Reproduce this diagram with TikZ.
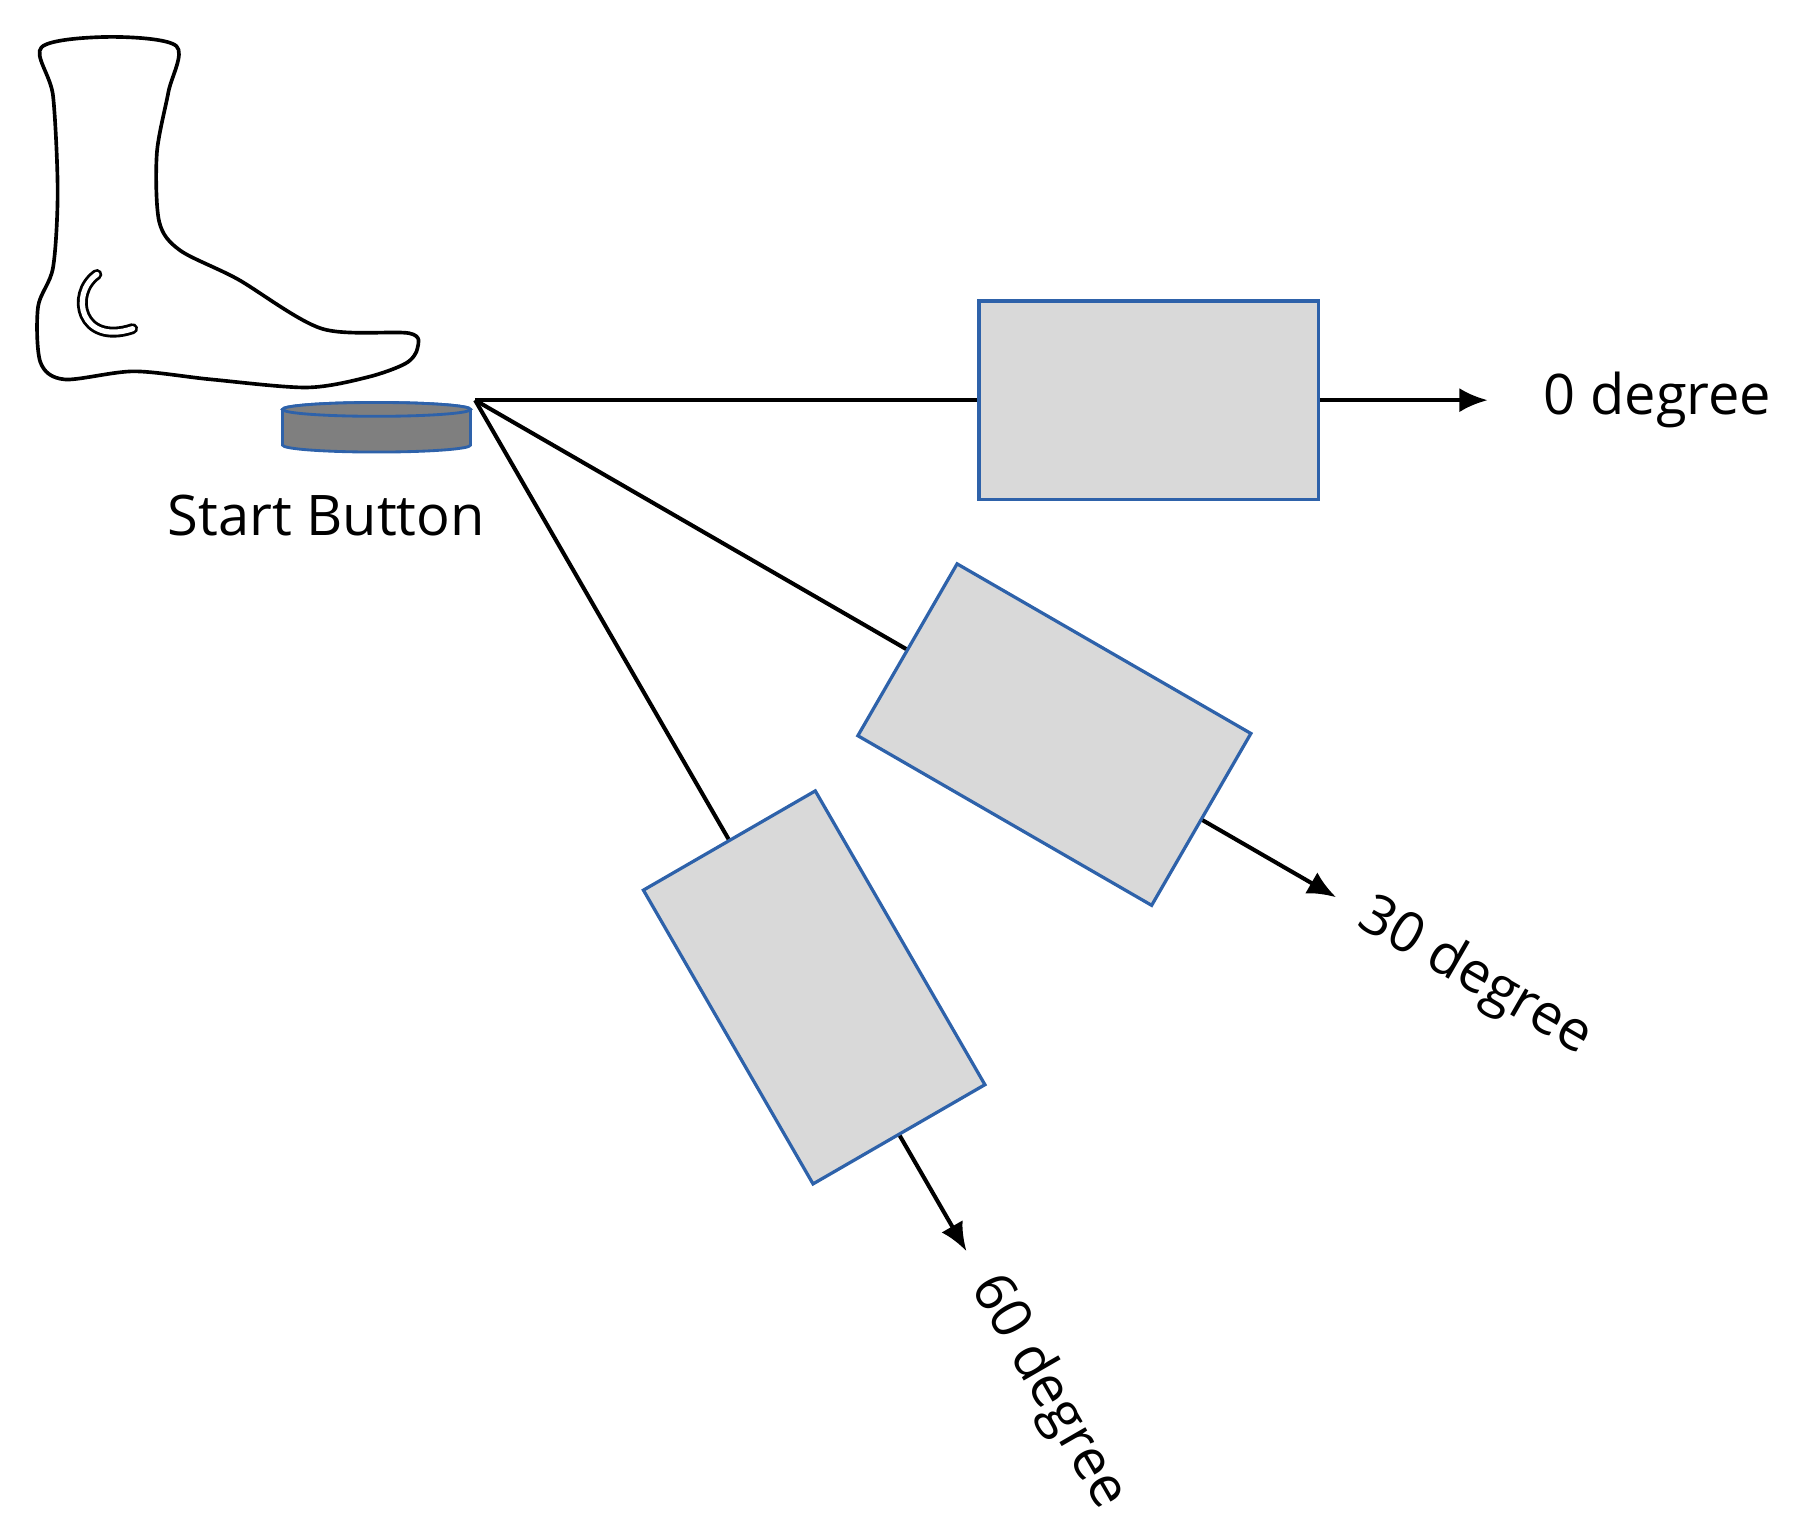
\documentclass[tikz,border=0pt]{standalone}
\usepackage{fontspec}
\setmainfont{Open Sans}
\usetikzlibrary{arrows.meta,calc}
\definecolor{boxgray}{HTML}{D9D9D9}
\definecolor{boxblue}{HTML}{2E62AA}
\definecolor{btngray}{HTML}{7F7F7F}
\begin{document}
\begin{tikzpicture}[x=0.01cm,y=0.01cm,
  target/.style={draw=boxblue,fill=boxgray,line width=0.8pt,minimum width=2.94cm,minimum height=1.72cm,inner sep=0pt},
  ray/.style={line width=1pt},
  arr/.style={line width=1pt,-{Latex[length=7pt,width=6pt]}},
  lbl/.style={font=\fontsize{13.8pt}{15pt}\selectfont,inner sep=0pt}]
\useasboundingbox (0,0) rectangle (1560,-1327);
% foot
\draw[line width=0.9pt,line join=round] plot[smooth cycle,tension=0.5] coordinates{
(36,-41) (95,-32) (153,-40) (146,-80) (136,-133) (138,-192) (156,-217) (206,-242) (279,-285) (355,-289) (362,-302) (352,-315) (319,-327) (266,-336) (183,-329) (116,-322) (56,-329) (35,-314) (33,-266) (46,-232) (50,-166) (46,-83)};
\draw[line width=0.7pt,double=white,double distance=1.3pt,line cap=round] (84,-238) .. controls (60,-255) and (70,-300) .. (115,-285);
% button
\draw[boxblue,fill=btngray,line width=0.7pt] (245,-355) -- (245,-386) arc[start angle=180,end angle=360,x radius=81.5,y radius=6] -- (408,-355) arc[start angle=0,end angle=180,x radius=81.5,y radius=6] -- cycle;
\draw[boxblue,fill=btngray,line width=0.7pt] (326.5,-355) ellipse[x radius=81.5,y radius=6];
\node[lbl] (startlbl) at (283,-447) {Start Button};
\coordinate (apex) at (412,-347);
% boxes
\node[target,rotate=0] (b0) at ($(apex)+(0:584)$) {};
\node[target,rotate=-30] (b30) at ($(apex)+(-30:580)$) {};
\node[target,rotate=-60] (b60) at ($(apex)+(-60:588)$) {};
\coordinate (e0) at ($(apex)+(0:878)$);
\coordinate (e30) at ($(apex)+(-30:862)$);
\coordinate (e60) at ($(apex)+(-60:852)$);
\draw[ray] (apex) -- (b0.west);
\draw[ray] (apex) -- (b30.west);
\draw[ray] (apex) -- (b60.west);
\draw[arr] (b0.east) -- (e0);
\draw[arr] (b30.east) -- (e30);
\draw[arr] (b60.east) -- (e60);
\node[lbl,anchor=west] (l0) at (1338,-347) {0 degree};
\node[lbl,anchor=west,rotate=-30] (l30) at ($(apex)+(-30:888)$) {30 degree};
\node[lbl,anchor=west,rotate=-60] (l60) at ($(apex)+(-60:880)$) {60 degree};
\end{tikzpicture}
\end{document}
